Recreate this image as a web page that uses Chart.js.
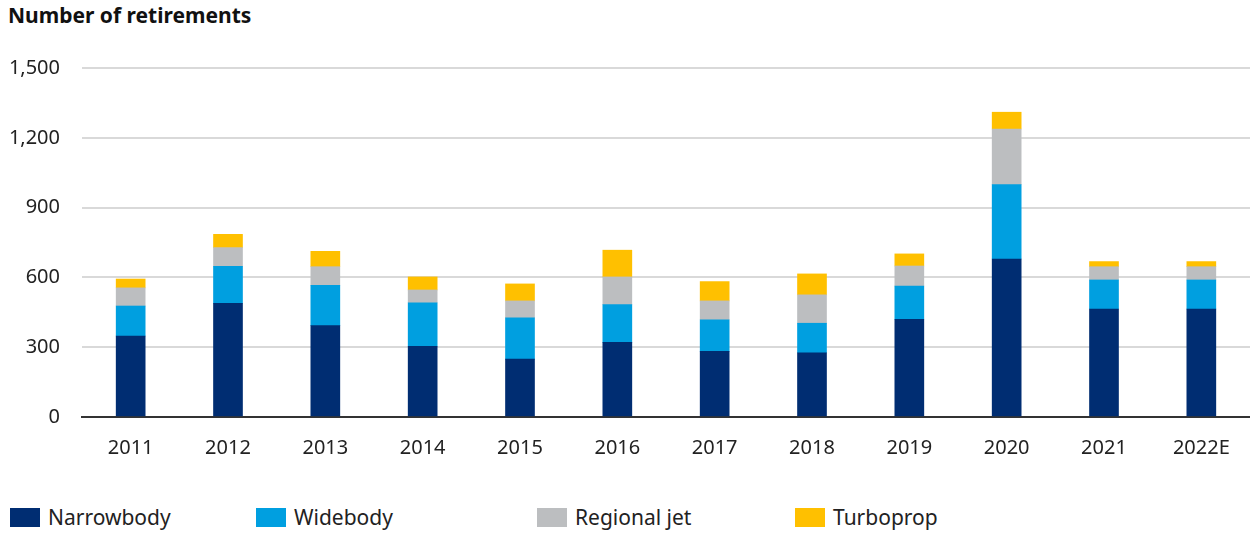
<!DOCTYPE html>
<html lang="en">
<head>
    <meta charset="UTF-8">
    <title>Number of retirements</title>
    <script src="https://cdn.jsdelivr.net/npm/chart.js"></script>
    <style>
        body { margin: 0; background: #fff; font-family: 'Noto Sans', sans-serif; }
        #titulo { position: absolute; left: 8px; top: 1px; font-size: 21px; font-weight: bold; color: #111; }
        #caixaGrafico { position: absolute; left: 0; top: 0; width: 1250px; height: 471px; }
        #legenda { position: absolute; left: 0; top: 503px; width: 1250px; height: 30px; }
        .itemLegenda { position: absolute; top: 0; display: flex; align-items: center; font-size: 21px; color: #222; }
        .itemLegenda span { display: inline-block; width: 30px; height: 19px; margin-right: 8px; }
    </style>
</head>
<body>
    <div id="titulo">Number of retirements</div>
    <div id="caixaGrafico"><canvas id="canvasRetiradas"></canvas></div>
    <div id="legenda"></div>

<script>
    // dados
    const anos = ['2011', '2012', '2013', '2014', '2015', '2016', '2017', '2018', '2019', '2020', '2021', '2022E'];
    const narrowbody = [348, 489, 393, 304, 249, 321, 282, 276, 420, 679, 464, 464];
    const widebody = [129, 159, 173, 187, 177, 162, 136, 127, 143, 320, 125, 125];
    const regionalJet = [78, 80, 80, 55, 73, 119, 81, 122, 86, 239, 57, 57];
    const turboprop = [38, 57, 66, 56, 73, 115, 83, 90, 52, 72, 22, 22];
    const ticksY = [0, 300, 600, 900, 1200, 1500];

    const series = [
        { label: 'Narrowbody', data: narrowbody, cor: '#002d72', x: 10 },
        { label: 'Widebody', data: widebody, cor: '#009fe0', x: 256 },
        { label: 'Regional jet', data: regionalJet, cor: '#bcbec0', x: 537 },
        { label: 'Turboprop', data: turboprop, cor: '#ffc000', x: 795 }
    ];

    const dataBarras = {
        labels: anos,
        datasets: series.map(s => ({
            label: s.label,
            data: s.data,
            backgroundColor: s.cor,
            borderWidth: 0,
            barThickness: 29
        }))
    };

    const configBarras = {
        type: 'bar',
        data: dataBarras,
        options: {
            responsive: true,
            maintainAspectRatio: false,
            animation: false,
            layout: {
                padding: { top: 68, right: 0, left: 7, bottom: 0 }
            },
            plugins: {
                legend: { display: false },
                tooltip: { enabled: false }
            },
            scales: {
                x: {
                    stacked: true,
                    grid: { display: false },
                    border: { color: '#333', width: 2 },
                    ticks: {
                        color: '#222',
                        padding: 11,
                        font: { size: 20, family: 'Noto Sans' }
                    }
                },
                y: {
                    stacked: true,
                    min: 0,
                    max: 1500,
                    afterBuildTicks: (escala) => {
                        escala.ticks = ticksY.map(v => ({ value: v }));
                    },
                    afterFit: (escala) => { escala.width = 75; },
                    grid: { color: '#d9d9d9', lineWidth: 2, drawTicks: false },
                    border: { display: false },
                    ticks: {
                        color: '#222',
                        padding: 22,
                        font: { size: 20, family: 'Noto Sans' },
                        callback: (v) => v.toLocaleString('en-US')
                    }
                }
            }
        }
    };

    const GraficoBarras = new Chart(
        document.getElementById('canvasRetiradas'),
        configBarras
    );

    // legenda em html, espacada como no original
    const legenda = document.getElementById('legenda');
    series.forEach(s => {
        const item = document.createElement('div');
        item.className = 'itemLegenda';
        item.style.left = s.x + 'px';
        item.innerHTML = '<span style="background:' + s.cor + '"></span>' + s.label;
        legenda.appendChild(item);
    });
</script>
</body>
</html>
